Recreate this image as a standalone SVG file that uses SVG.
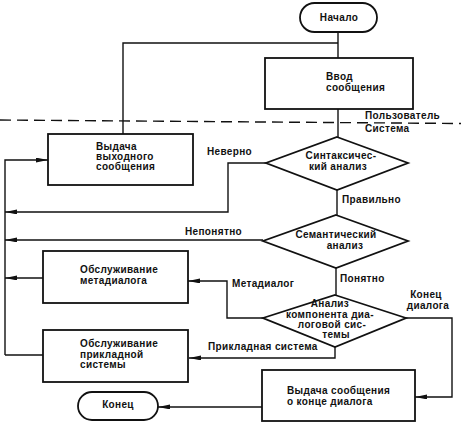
<svg xmlns="http://www.w3.org/2000/svg" width="461" height="431" viewBox="0 0 461 431">
<defs>
<marker id="ah" markerUnits="userSpaceOnUse" markerWidth="14" markerHeight="6" refX="12" refY="2.4" orient="auto">
<path d="M0,0 L12,2.4 L0,4.8 z" fill="#111"/>
</marker>
<style>
.box{fill:#fff;stroke:#111;stroke-width:1.8}
.ln{fill:none;stroke:#111;stroke-width:1.4}
.arr{fill:none;stroke:#111;stroke-width:1.4;marker-end:url(#ah)}
text{font-family:"Liberation Sans",Arial,sans-serif;font-size:10px;font-weight:bold;letter-spacing:0.35px;fill:#111}
.m{text-anchor:middle}
</style>
</defs>
<rect width="461" height="431" fill="#fff"/>
<line x1="0" y1="120" x2="461" y2="123.5" stroke="#111" stroke-width="1.4" stroke-dasharray="11 6"/>
<text x="365" y="119">Пользователь</text>
<text x="365" y="132">Система</text>
<g id="connectors">
<path class="ln" d="M338,32 V58"/>
<path class="ln" d="M123,134 V43 H338"/>
<path class="ln" d="M338,109 V137"/>
<path class="arr" d="M266,163 H228 V212 H5"/>
<path class="arr" d="M5,355 V160 H48"/>
<path class="ln" d="M337,190 V215"/>
<path class="arr" d="M263,240 H5"/>
<path class="arr" d="M43,278 H5"/>
<path class="ln" d="M336,268 V295"/>
<path class="arr" d="M263,318 H227 V281 H188"/>
<path class="arr" d="M335,347 V358 H189"/>
<path class="ln" d="M43,355 H5"/>
<path class="arr" d="M406,318 H452 V397 H415"/>
<path class="arr" d="M262,407 H158"/>
<text x="207" y="155">Неверно</text>
<text x="342" y="203">Правильно</text>
<text x="185" y="235">Непонятно</text>
<text x="340" y="282">Понятно</text>
<text x="232" y="287">Метадиалог</text>
<text x="208" y="350">Прикладная система</text>
<text class="m" x="426" y="298">Конец</text>
<text class="m" x="428" y="309">диалога</text>
</g>
<g id="start">
<rect class="box" x="300" y="3" width="77" height="29" rx="14.5"/>
<text class="m" x="339" y="21">Начало</text>
</g>
<g id="input">
<rect class="box" x="265" y="58" width="148" height="51"/>
<text x="326" y="80">Ввод</text>
<text x="326" y="91">сообщения</text>
</g>
<g id="output">
<rect class="box" x="48" y="134" width="145" height="51"/>
<text x="96" y="150">Выдача</text>
<text x="96" y="160">выходного</text>
<text x="96" y="170">сообщения</text>
</g>
<g id="syntax">
<polygon class="box" points="337,137 408,163 337,190 266,163"/>
<text class="m" x="341" y="159">Синтаксичес-</text>
<text class="m" x="338" y="170">кий анализ</text>
</g>
<g id="semantic">
<polygon class="box" points="336,215 408,241 336,268 263,241"/>
<text class="m" x="336" y="238">Семантический</text>
<text class="m" x="345" y="249">анализ</text>
</g>
<g id="component">
<polygon class="box" points="335,295 406,318 335,347 263,318"/>
<text class="m" x="330" y="307">Анализ</text>
<text class="m" x="330" y="318">компонента диа-</text>
<text class="m" x="332" y="328">логовой сис-</text>
<text class="m" x="336" y="338">темы</text>
</g>
<g id="metadialog">
<rect class="box" x="43" y="251" width="145" height="52"/>
<text x="80" y="273">Обслуживание</text>
<text x="80" y="284">метадиалога</text>
</g>
<g id="applied">
<rect class="box" x="43" y="330" width="145" height="52"/>
<text x="80" y="347">Обслуживание</text>
<text x="80" y="358">прикладной</text>
<text x="80" y="368">системы</text>
</g>
<g id="endmsg">
<rect class="box" x="262" y="370" width="153" height="51"/>
<text x="287" y="394">Выдача сообщения</text>
<text x="287" y="405">о конце диалога</text>
</g>
<g id="end">
<rect class="box" x="78" y="392" width="80" height="28" rx="14"/>
<text class="m" x="118" y="408">Конец</text>
</g>
</svg>
